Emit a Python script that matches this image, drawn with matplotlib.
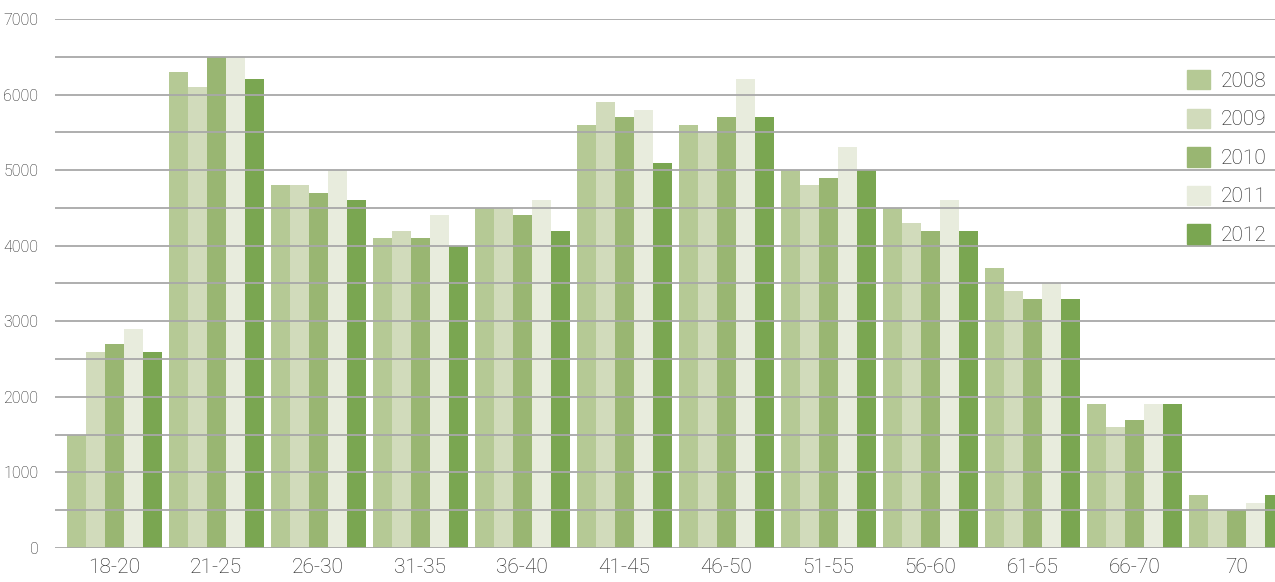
import numpy as np
from matplotlib import pyplot as plt
import matplotlib.patches as mpatches

plt.rcParams["font.family"] = ["Roboto", "DejaVu Sans"]
plt.rcParams["font.weight"] = "light"

age_groups = ["18-20", "21-25", "26-30", "31-35", "36-40", "41-45",
              "46-50", "51-55", "56-60", "61-65", "66-70", "70"]
years = ["2008", "2009", "2010", "2011", "2012"]

v2008 = [1500, 6300, 4800, 4100, 4500, 5600, 5600, 5000, 4500, 3700, 1900, 700]
v2009 = [2600, 6100, 4800, 4200, 4500, 5900, 5500, 4800, 4300, 3400, 1600, 500]
v2010 = [2700, 6500, 4700, 4100, 4400, 5700, 5700, 4900, 4200, 3300, 1700, 500]
v2011 = [2900, 6500, 5000, 4400, 4600, 5800, 6200, 5300, 4600, 3500, 1900, 600]
v2012 = [2600, 6200, 4600, 4000, 4200, 5100, 5700, 5000, 4200, 3300, 1900, 700]

series = [v2008, v2009, v2010, v2011, v2012]
colors = ["#b5c995", "#d1dbbb", "#99b672", "#e8ecdd", "#7aa651"]
text_color = "#1e1e1e"

fig = plt.figure(figsize=(12.75, 5.82), dpi=100)
ax = fig.add_axes([55 / 1275, 34 / 582, 1 - 55 / 1275, (548 - 19) / 582])

x = np.arange(len(age_groups))
width = 0.186
for i, (vals, col) in enumerate(zip(series, colors)):
    ax.bar(x + (i - 2) * width, vals, width, color=col, zorder=1, linewidth=0)

ax.set_xlim(-0.58, 11.38)
ax.set_ylim(0, 7000)

yt = np.arange(0, 7001, 500)
ax.set_yticks(yt)
ax.set_yticklabels([str(v) if v % 1000 == 0 else "" for v in yt],
                   fontsize=11.5, color=text_color)
ax.set_xticks(x)
ax.set_xticklabels(age_groups, fontsize=15, color=text_color)
ax.tick_params(axis="both", length=0)
ax.tick_params(axis="y", pad=12)
ax.tick_params(axis="x", pad=7)

ax.set_axisbelow(False)
ax.yaxis.grid(True, color="#a8a8a8", linewidth=1.3, zorder=3)
for s in ax.spines.values():
    s.set_visible(False)

handles = [mpatches.Patch(color=c, label=y) for c, y in zip(colors, years)]
fig.legend(handles=handles, loc="upper left",
           bbox_to_anchor=(1187 / 1275, 1 - 70 / 582),
           frameon=False, fontsize=15, handlelength=1.1, handleheight=1.06,
           labelspacing=0.85, handletextpad=0.5, borderpad=0,
           borderaxespad=0, labelcolor=text_color)

plt.savefig("out.png", dpi=100)
